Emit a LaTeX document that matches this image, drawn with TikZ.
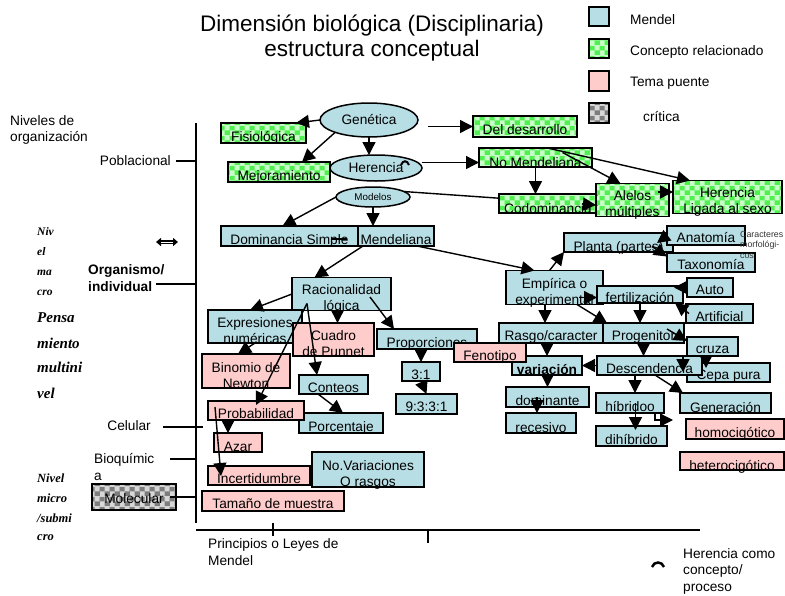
\documentclass[tikz,border=0pt]{standalone}
\usepackage{fontspec}
\setmainfont{Liberation Sans}
\newfontfamily\scr{Liberation Serif}
\usetikzlibrary{arrows.meta,shapes.geometric,patterns.meta}
\definecolor{mblue}{RGB}{183,222,228}
\definecolor{mpink}{RGB}{255,204,204}
\definecolor{gbase}{RGB}{80,240,80}
\definecolor{glight}{RGB}{200,255,200}
\definecolor{kbase}{RGB}{125,125,125}
\definecolor{klight}{RGB}{215,215,215}
\tikzdeclarepattern{name=gchk, type=colored,
  bottom left={(0pt,0pt)}, top right={(10pt,10pt)}, tile size={(10pt,10pt)},
  code={\fill[gbase] (0pt,0pt) rectangle (10pt,10pt);
        \fill[glight] (0pt,0pt) rectangle (5pt,5pt);
        \fill[glight] (5pt,5pt) rectangle (10pt,10pt);}}
\tikzdeclarepattern{name=kchk, type=colored,
  bottom left={(0pt,0pt)}, top right={(10pt,10pt)}, tile size={(10pt,10pt)},
  code={\fill[kbase] (0pt,0pt) rectangle (10pt,10pt);
        \fill[klight] (0pt,0pt) rectangle (5pt,5pt);
        \fill[klight] (5pt,5pt) rectangle (10pt,10pt);}}
\pgfdeclarelayer{bg}
\pgfsetlayers{bg,main}
\newcommand{\two}[2]{\begin{tabular}[b]{@{}c@{}}#1\\#2\end{tabular}}
\newcommand{\bx}[8]{%
  \pgfmathsetmacro\bxw{#5-#3}%
  \pgfmathsetmacro\bxh{#6-#4}%
  \pgfmathsetmacro\bxth{#6-#4-#7}%
  \pgfmathsetmacro\bxcx{(#3+#5)/2}%
  \pgfmathsetmacro\bxcy{(#4+#6)/2}%
  \node[#1, minimum width=\bxw pt, minimum height=\bxh pt, text height=\bxth pt, text depth=#7pt] (#2) at (\bxcx,\bxcy) {#8};}
\tikzset{
  basebox/.style={draw=black, line width=1.5pt, inner xsep=2pt, inner ysep=0pt, outer sep=0pt, font=\fontsize{13.7}{16}\selectfont},
  mb/.style={basebox, fill=mblue},
  mp/.style={basebox, fill=mpink},
  mg/.style={basebox, pattern=gchk},
  mk/.style={basebox, pattern=kchk},
  arr/.style={line width=1.4pt, -{Triangle[length=13pt,width=13pt]}},
  ell/.style={ellipse, draw=black, line width=1.5pt, fill=mblue, inner sep=0pt, outer sep=0pt, font=\fontsize{13.7}{16}\selectfont},
  lbl/.style={inner sep=0pt, font=\fontsize{13.7}{16.5}\selectfont, align=left},
  axis/.style={line width=1.5pt},
  sc/.style={inner sep=0pt, anchor=west, font=\scr\bfseries\itshape\fontsize{11.5}{12}\selectfont},
  scbig/.style={inner sep=0pt, anchor=west, font=\scr\bfseries\itshape\fontsize{15}{16}\selectfont},
  scmid/.style={inner sep=0pt, anchor=west, font=\scr\bfseries\itshape\fontsize{12.5}{13}\selectfont},
}
\begin{document}
\begin{tikzpicture}[x=1pt,y=-1pt]
\useasboundingbox (0,0) rectangle (785,595);

% title
\node[font=\fontsize{22.5}{25}\selectfont, align=center, inner sep=0pt] (title) at (372,38) {Dimensión biológica (Disciplinaria)\\estructura conceptual};

% legend
\bx{mb}{legA}{589}{7}{609}{26}{0}{}
\bx{mg}{legB}{589}{39}{609}{58}{0}{}
\bx{mp}{legC}{589}{71}{609}{91}{0}{}
\bx{mk}{legD}{589}{103}{609}{123}{0}{}
\node[lbl, anchor=west] (legAt) at (630,20) {Mendel};
\node[lbl, anchor=west] (legBt) at (630,52) {Concepto relacionado};
\node[lbl, anchor=west] (legCt) at (630,83) {Tema puente};
\node[lbl, anchor=west] (legDt) at (643,117) {crítica};

% left labels
\node[lbl, anchor=west] (niveles) at (10,130) {Niveles de\\organización};
\node[lbl, anchor=east] (pobl) at (171,161) {Poblacional};
\node[lbl, anchor=west, font=\bfseries\fontsize{13.7}{17}\selectfont] (organ) at (88,278) {Organismo/\\individual};
\node[lbl, anchor=east] (celul) at (151,426) {Celular};
\node[lbl, anchor=west] (bioq) at (94,467) {Bioquímic\\a};
\bx{mk}{molec}{92}{484}{176}{510}{7}{Molecular}
\node[lbl, anchor=west] (princ) at (208,552) {Principios o Leyes de\\Mendel};
\node[lbl, anchor=west] (hcomo) at (683,571) {Herencia como\\concepto/\\proceso};

% script texts
\node[sc] (s1) at (37,232) {Niv};
\node[sc] (s2) at (37,252) {el};
\node[sc] (s3) at (37,273) {ma};
\node[sc] (s4) at (37,293) {cro};
\node[scbig] (s5) at (37,318) {Pensa};
\node[scbig] (s6) at (37,343) {miento};
\node[scbig] (s7) at (37,367) {multini};
\node[scbig] (s8) at (37,393) {vel};
\node[scmid] (s9) at (37,478) {Nivel};
\node[scmid] (s10) at (37,498) {micro};
\node[scmid] (s11) at (37,518) {/submi};
\node[scmid] (s12) at (37,538) {cro};

% axes
\coordinate (axT) at (196,123);
\coordinate (axB) at (196,523);
\coordinate (axL) at (196,530);
\coordinate (axR) at (700,530);
\draw[axis] (axT) -- (axB);
\draw[axis] (axL) -- (axR);
\draw[axis] (273,523) -- (273,536);
\draw[axis] (428,530) -- (428,543);
\draw[axis] ([xshift=5pt]pobl.east) -- (pobl.east -| axT);
\draw[axis] (156,284) -- (196,284);
\draw[axis] (163,427) -- (203,427);
\draw[axis] (170,459) -- (196,459);
\draw[axis] (170,497) -- (196,497);

% symbols
\draw[line width=4pt, {Triangle[length=5pt,width=8pt]}-{Triangle[length=5pt,width=8pt]}] (156,242) -- (178,242);
\draw[white, line width=0.8pt] (161,242) -- (173,242);
\draw[line width=2.5pt] (652,567) .. controls (654,561) and (662,561) .. (664,567);

% green boxes
\bx{mg}{fisio}{221}{123}{306}{143}{2}{Fisiológica}
\bx{mg}{mejora}{228}{162}{330}{182}{2}{Mejoramiento}
\bx{mg}{desarr}{473}{116}{577}{137}{3}{Del desarrollo}
\bx{mg}{nomend}{479}{148}{592}{167}{0}{No Mendeliana}
\bx{mg}{codom}{499}{194}{597}{213}{0}{Codominancia}
\bx{mg}{alelos}{596}{187}{669}{213}{-7}{\two{Alelos}{múltiples}}
\bx{mg}{ligada}{673}{181}{782}{213}{-1}{\two{Herencia}{Ligada al sexo}}

% ellipses
\node[ell, minimum width=98pt, minimum height=34pt] (gen) at (369,120) {Genética};
\node[ell, minimum width=92pt, minimum height=26pt] (her) at (376,168) {Herencia};
\node[ell, minimum width=74pt, minimum height=20pt, font=\fontsize{9.8}{11}\selectfont] (modelos) at (373,197) {Modelos};
\draw[line width=2pt] (401,165) .. controls (403,160) and (407,160) .. (409,165);

% blue boxes
\bx{mb}{mendel}{358}{226}{434}{246}{2}{Mendeliana}
\bx{mb}{domsim}{221}{226}{358}{246}{2}{Dominancia Simple}
\bx{mb}{racion}{292}{278}{391}{310}{-1}{\two{Racionalidad}{lógica}}
\bx{mb}{expres}{208}{311}{302}{342}{-2}{\two{Expresiones}{numéricas}}
\bx{mb}{propor}{377}{329}{477}{349}{2}{Proporciones}
\bx{mb}{conteos}{299}{375}{368}{394}{2}{Conteos}
\bx{mb}{r31}{402}{362}{440}{381}{2}{3:1}
\bx{mb}{r9331}{396}{394}{457}{414}{3}{9:3:3:1}
\bx{mb}{porcent}{299}{413}{383}{433}{2}{Porcentaje}
\bx{mb}{novar}{312}{452}{424}{487}{1}{\two{No.Variaciones}{O rasgos}}
\bx{mb}{planta}{564}{233}{673}{252}{1}{Planta (partes)}
\bx{mb}{anat}{667}{226}{745}{245}{3}{Anatomía}
\bx{mb}{taxon}{667}{253}{755}{272}{3}{Taxonomía}
\bx{mb}{empir}{506}{272}{603}{303}{-3}{\two{Empírica o}{experimental}}
\bx{mb}{fert}{597}{286}{683}{303}{1}{fertilización}
\bx{mb}{auto}{687}{278}{733}{297}{3}{Auto}
\bx{mb}{artif}{686}{304}{753}{323}{2}{Artificial}
\bx{mb}{rasgo}{499}{323}{603}{343}{3}{Rasgo/caracter}
\bx{mb}{progen}{603}{323}{684}{343}{3}{Progenitor}
\bx{mb}{cruza}{687}{337}{738}{356}{3}{cruza}
\bx{mb}{variac}{512}{356}{582}{375}{1}{\textbf{variación}}
\bx{mb}{cepa}{687}{363}{770}{382}{3}{Cepa pura}
\bx{mb}{desc}{597}{356}{702}{375}{2}{Descendencia}
\bx{mb}{domin}{506}{387}{589}{407}{2}{dominante}
\bx{mb}{reces}{506}{413}{576}{433}{1}{recesivo}
\bx{mb}{hibr}{596}{393}{664}{413}{2}{híbridoo}
\bx{mb}{dihib}{596}{426}{667}{446}{2}{dihíbrido}
\bx{mb}{gener}{680}{393}{771}{413}{1}{Generación}

% pink boxes
\bx{mp}{cuadro}{293}{323}{374}{356}{0}{\two{Cuadro}{de Punnet}}
\bx{mp}{binom}{202}{355}{290}{387}{-2}{\two{Binomio de}{Newton}}
\bx{mp}{fenot}{454}{343}{526}{362}{2}{Fenotipo}
\bx{mp}{probab}{208}{401}{304}{420}{2}{Probabilidad}
\bx{mp}{azar}{214}{433}{262}{452}{1}{Azar}
\bx{mp}{incert}{208}{466}{310}{485}{2}{Incertidumbre}
\bx{mp}{tamano}{202}{491}{344}{511}{3}{Tamaño de muestra}
\bx{mp}{homo}{686}{419}{784}{439}{2}{homocigótico}
\bx{mp}{hetero}{680}{452}{784}{470}{0}{heterocigótico}

\node[inner sep=0pt, anchor=north west, align=left, font=\fontsize{8.8}{10.5}\selectfont, text=black!80] (caract) at (740,231) {Caracteres\\morfológi-\\cos};

% connectors
\draw[arr] (gen.west) -- ([xshift=-10pt]fisio.north east);
\draw[arr] (gen.200) -- ([xshift=-28pt]mejora.north east);
\draw[arr] (gen.south) -- (gen.south |- her.north);
\draw[arr] ([xshift=10pt]gen.east |- desarr.west) -- (desarr.west);
\coordinate (t5) at ([yshift=-5pt]nomend.west);
\draw[arr] (her.east |- t5) -- (t5);
\draw[arr] (nomend.south) -- (nomend.south |- codom.north);
\draw[arr] ([xshift=27pt,yshift=5pt]nomend.center) -- ([xshift=-12pt]alelos.north);
\draw[arr] ([xshift=12pt]nomend.north) -- ([xshift=17pt]ligada.north west);
\coordinate (t9) at ([yshift=5pt]ligada.west);
\draw[arr] ([xshift=-15pt]t9) -- (t9);
\coordinate (t10) at ([yshift=-5pt]alelos.west);
\begin{pgfonlayer}{bg}
\draw[line width=1.4pt] (modelos.10) -- (t10);
\end{pgfonlayer}
\draw[arr] ([xshift=-14pt,yshift=1pt]t10) -- (t10);
\draw[arr] (modelos.west) -- ([xshift=-7pt]domsim.north);
\draw[arr] (modelos.south) -- (modelos.south |- mendel.north);
\draw[line width=1.4pt] ([xshift=-26pt,yshift=-3pt]mendel.west) -- ([xshift=-11pt,yshift=-3pt]mendel.west);
\draw[arr] ([xshift=5pt]mendel.south west) -- ([xshift=-27pt]racion.north);
\draw[arr] ([xshift=-17pt]mendel.south east) -- ([xshift=-20pt]empir.north);
\draw[arr] (racion.west) -- ([xshift=-5pt]expres.north);
\coordinate (t16) at ([xshift=4pt]cuadro.north);
\draw[arr] (t16 |- racion.south) -- (t16);
\draw[arr] ([xshift=-21pt,yshift=-3pt]racion.east) -- ([xshift=17pt]propor.north west);
\coordinate (s18) at ([xshift=15pt,yshift=7pt]racion.south west);
\draw[arr] (s18) -- ([xshift=18pt]conteos.north west);
\draw[arr] (s18) -- ([xshift=48pt,yshift=-4pt]probab.north west);
\draw[arr] (expres.south) -- ([xshift=36pt]binom.north west);
\draw[arr] ([xshift=19pt]conteos.south west) -- ([xshift=44pt]porcent.north west);
\draw[arr] (r31.north |- propor.south) -- (r31.north);
\draw[arr] (r31.south) -- (r9331.north);
\coordinate (t24) at ([xshift=-10pt]azar.north);
\draw[arr] (t24 |- probab.south) -- (t24);
\draw[arr] ([xshift=7pt,yshift=-6pt]probab.north west) -- ([xshift=13pt,yshift=-10pt]incert.north west);
\draw[arr] ([xshift=-5pt]empir.north) -- (planta.south west);
\draw[arr] (anat.west) -- ([xshift=-16pt,yshift=-10pt]planta.north east);
\coordinate (t28) at ([yshift=6pt]taxon.west);
\draw[arr] ([xshift=-21pt,yshift=-4pt]planta.east) -- (t28);
\coordinate (t29) at ([yshift=-3pt]fert.west);
\draw[arr] ([xshift=-18pt]t29) -- (t29);
\draw[arr] (auto.west) -- ([xshift=-13pt]auto.west);
\draw[arr] ([xshift=3pt]artif.west) -- ([xshift=-8pt]fert.south east);
\coordinate (t32) at ([xshift=-6pt]rasgo.north);
\draw[arr] (t32 |- empir.south) -- (t32);
\draw[arr] ([xshift=-26pt]empir.south east) -- ([xshift=4pt]progen.north west);
\draw[arr] (fert.south) -- (fert.south |- progen.north);
\draw[arr] ([xshift=-17pt,yshift=-6pt]progen.north east) -- ([yshift=-4pt]cruza.north west);
\draw[arr] (variac.north |- rasgo.south) -- (variac.north);
\draw[arr] (progen.south) -- (progen.south |- desc.north);
\draw[arr] (desc.west) -- (variac.east);
\coordinate (t39) at ([xshift=19pt,yshift=-5pt]cepa.north west);
\draw[arr] (t39 |- cruza.south) -- (t39);
\draw[arr] ([xshift=-4pt]cruza.south west) -- ([xshift=-19pt,yshift=3pt]desc.south east);
\draw[arr] (domin.north |- variac.south) -- (domin.north);
\coordinate (t42) at ([xshift=-4pt]reces.north);
\draw[arr] (t42 |- domin.center) -- (t42);
\coordinate (t43) at ([xshift=5pt]hibr.north);
\draw[arr] (t43 |- desc.south) -- (t43);
\draw[arr] ([xshift=58pt]desc.south west) -- ([xshift=3pt]gener.north west);
\coordinate (t45) at ([xshift=4pt,yshift=-4pt]dihib.north);
\draw[arr] (t45 |- hibr.center) -- (t45);
\coordinate (t46) at ([xshift=-13pt,yshift=9pt]homo.west);
\draw[arr] ([xshift=-9pt]hibr.south east) |- (t46);
\end{tikzpicture}
\end{document}
